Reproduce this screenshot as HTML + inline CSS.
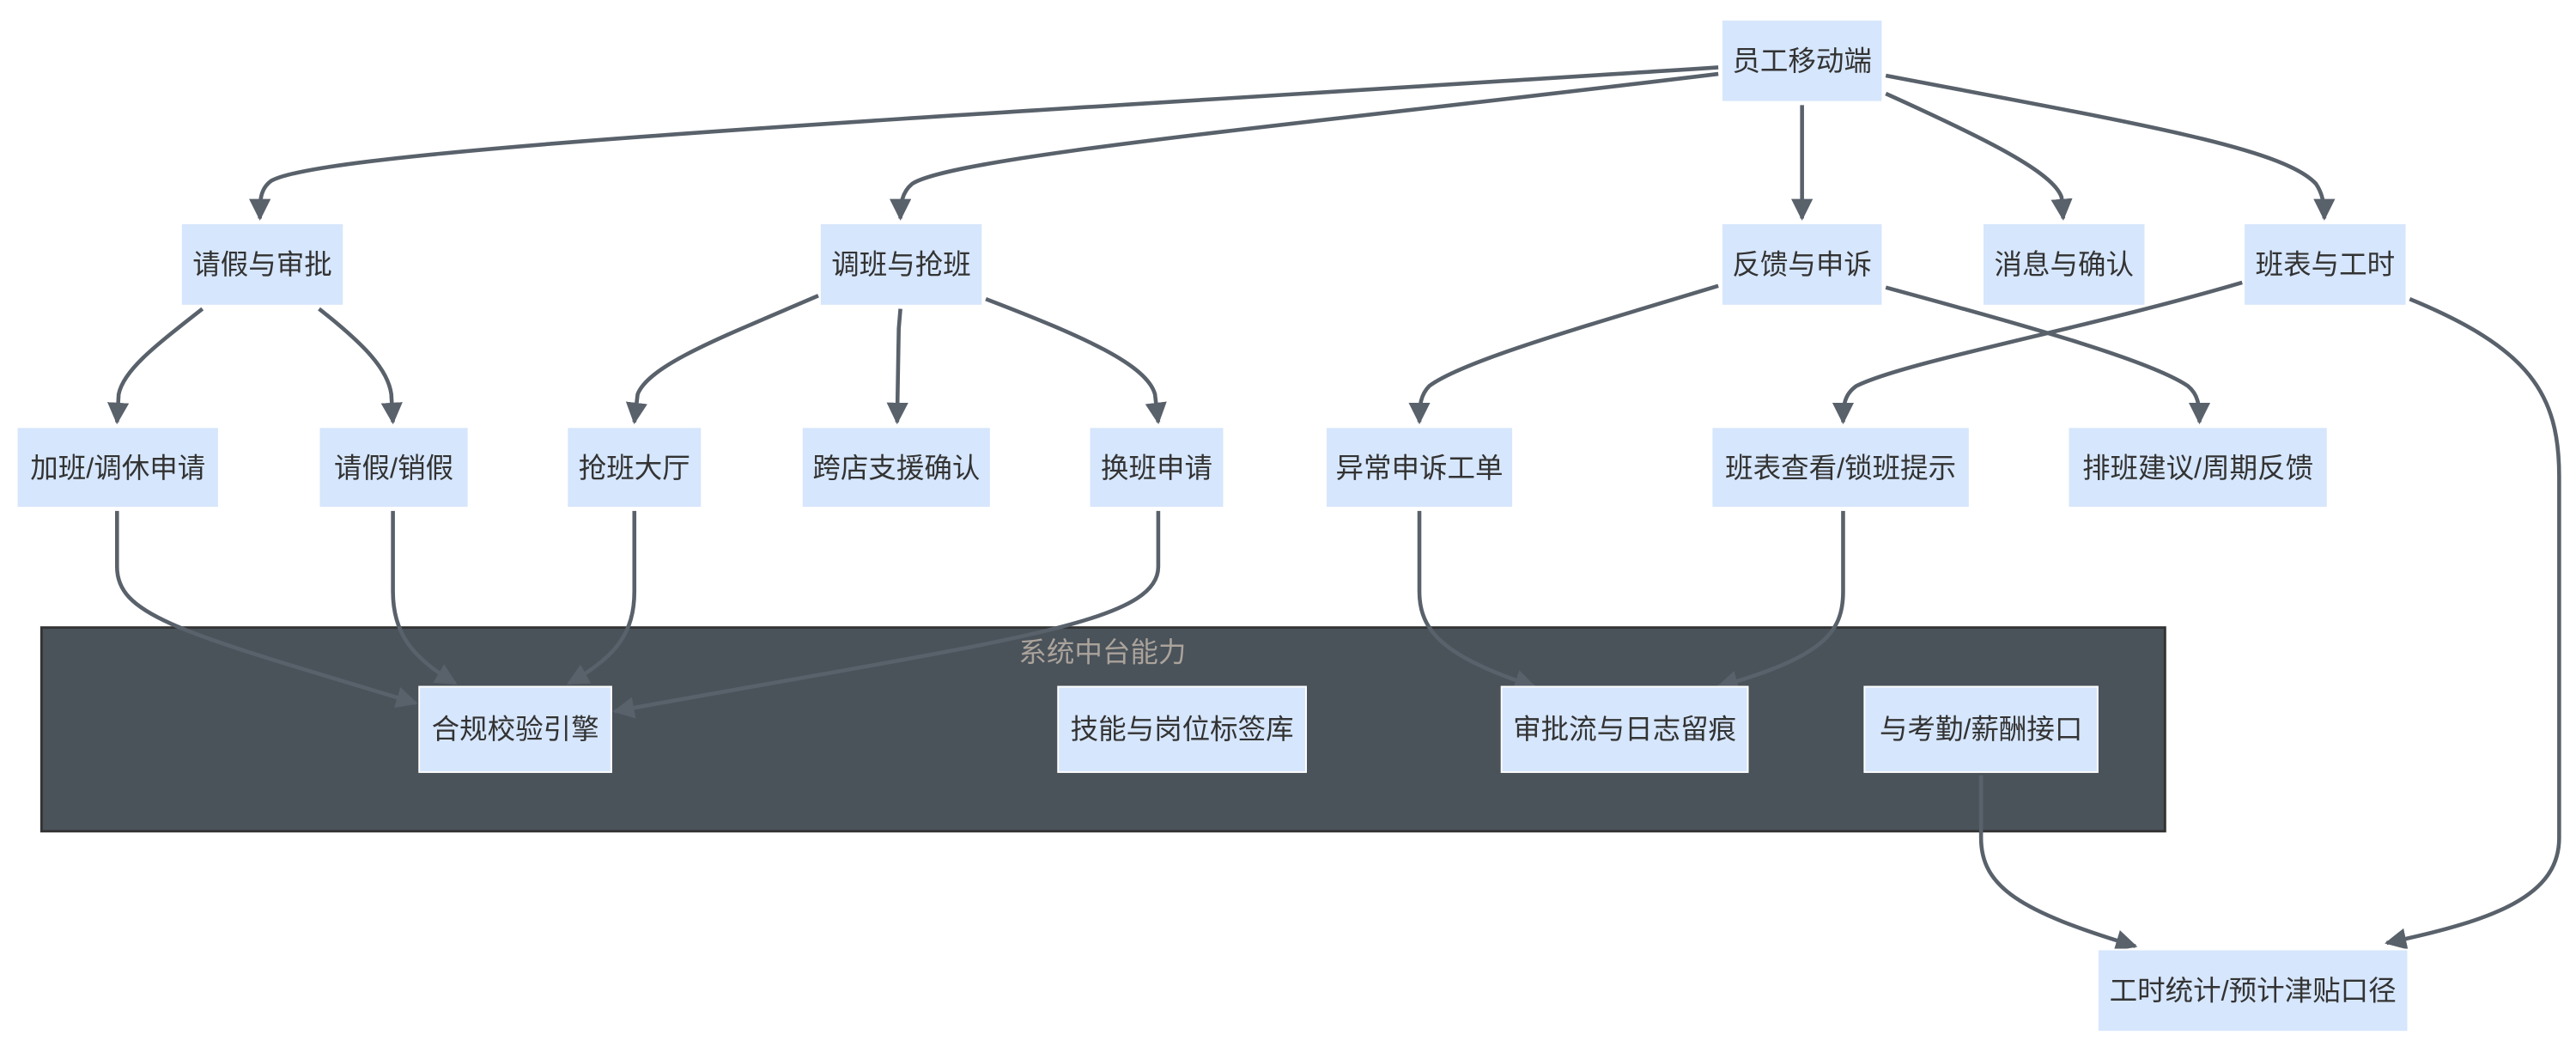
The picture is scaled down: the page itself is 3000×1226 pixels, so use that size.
<!DOCTYPE html>
<html><head><meta charset="utf-8"><style>
html,body{margin:0;padding:0;background:#fff;}
svg{display:block;}
text{font-family:"Liberation Sans","Noto Sans CJK SC",sans-serif;font-size:17px;fill:#333;text-anchor:middle;dominant-baseline:central;}
.n{fill:#d6e6fc;stroke:#ffffff;stroke-width:1;}
.e{fill:none;stroke:#59616b;stroke-width:2.4;}
</style></head><body>
<svg width="3000" height="1226" viewBox="0 0 1568 641" xmlns="http://www.w3.org/2000/svg">
<defs>
<marker id="a" viewBox="0 0 10 10" refX="9" refY="5" markerWidth="5.5" markerHeight="5.5" orient="auto" markerUnits="strokeWidth">
<path d="M0,0 L10,5 L0,10 z" fill="#59616b"/></marker>
</defs>
<rect x="0" y="0" width="1568" height="641" fill="#fff"/>
<!-- cluster -->
<rect x="25" y="382" width="1293" height="124" fill="#4a525a" stroke="#333" stroke-width="1.5"/>
<text x="671" y="397" style="fill:#aaa39b">系统中台能力</text>

<!-- edges -->
<g class="e" marker-end="url(#a)">
<path d="M1046,41 C600,70 200,90 165,110 C158,115 158,122 158,133"/>
<path d="M1046,45 C800,75 580,95 555,112 C549,117 548,124 548,133"/>
<path d="M1097,64 L1097,133"/>
<path d="M1148,57 C1210,85 1250,105 1255,120 L1256,133"/>
<path d="M1148,46 C1300,75 1390,90 1410,112 C1414,118 1415,124 1415,133"/>
<path d="M123,188 C95,210 75,225 72,240 L71,257"/>
<path d="M194,188 C222,210 236,225 238,240 L239,257"/>
<path d="M498,180 C440,205 395,222 388,240 L386,257"/>
<path d="M548,188 L547,200 L546,257"/>
<path d="M600,182 C660,205 698,222 703,240 L705,257"/>
<path d="M1046,174 C960,200 890,220 870,235 C865,240 864,246 864,257"/>
<path d="M1148,175 C1240,200 1310,220 1332,235 C1338,240 1339,246 1339,257"/>
<path d="M1365,172 C1270,200 1160,220 1130,235 C1123,240 1122,246 1122,257"/>
<path d="M1467,182 C1540,212 1558,240 1558,290 L1558,510 C1558,545 1520,560 1453,574"/>
<path d="M71,311 L71,345 C71,375 110,385 253,428"/>
<path d="M239,311 L239,360 C239,385 250,400 277,416"/>
<path d="M386,311 L386,360 C386,385 375,400 346,416"/>
<path d="M705,311 L705,345 C705,380 610,390 374,433"/>
<path d="M864,311 L864,360 C864,385 880,400 934,418"/>
<path d="M1122,311 L1122,360 C1122,385 1110,400 1046,418"/>
<path d="M1206,472 L1206,510 C1206,540 1230,555 1300,576"/>
</g>

<!-- nodes -->
<g>
<rect class="n" x="1048" y="12" width="98" height="50"/><text x="1097" y="37">员工移动端</text>
<rect class="n" x="110" y="136" width="99" height="50"/><text x="159.5" y="161">请假与审批</text>
<rect class="n" x="499" y="136" width="99" height="50"/><text x="548.5" y="161">调班与抢班</text>
<rect class="n" x="1048" y="136" width="98" height="50"/><text x="1097" y="161">反馈与申诉</text>
<rect class="n" x="1207" y="136" width="99" height="50"/><text x="1256.5" y="161">消息与确认</text>
<rect class="n" x="1366" y="136" width="99" height="50"/><text x="1415.5" y="161">班表与工时</text>

<rect class="n" x="10" y="260" width="123" height="49"/><text x="71.5" y="285">加班/调休申请</text>
<rect class="n" x="194" y="260" width="91" height="49"/><text x="239.5" y="285">请假/销假</text>
<rect class="n" x="345" y="260" width="82" height="49"/><text x="386" y="285">抢班大厅</text>
<rect class="n" x="488" y="260" width="115" height="49"/><text x="545.5" y="285">跨店支援确认</text>
<rect class="n" x="663" y="260" width="82" height="49"/><text x="704" y="285">换班申请</text>
<rect class="n" x="807" y="260" width="114" height="49"/><text x="864" y="285">异常申诉工单</text>
<rect class="n" x="1042" y="260" width="157" height="49"/><text x="1120.5" y="285">班表查看/锁班提示</text>
<rect class="n" x="1259" y="260" width="158" height="49"/><text x="1338" y="285">排班建议/周期反馈</text>

<rect class="n" x="255" y="418" width="117" height="52"/><text x="313.5" y="444">合规校验引擎</text>
<rect class="n" x="644" y="418" width="151" height="52"/><text x="719.5" y="444">技能与岗位标签库</text>
<rect class="n" x="914" y="418" width="150" height="52"/><text x="989" y="444">审批流与日志留痕</text>
<rect class="n" x="1135" y="418" width="142" height="52"/><text x="1206" y="444">与考勤/薪酬接口</text>

<rect class="n" x="1277" y="578" width="189" height="50"/><text x="1371.5" y="603">工时统计/预计津贴口径</text>
</g>
</svg>
</body></html>
